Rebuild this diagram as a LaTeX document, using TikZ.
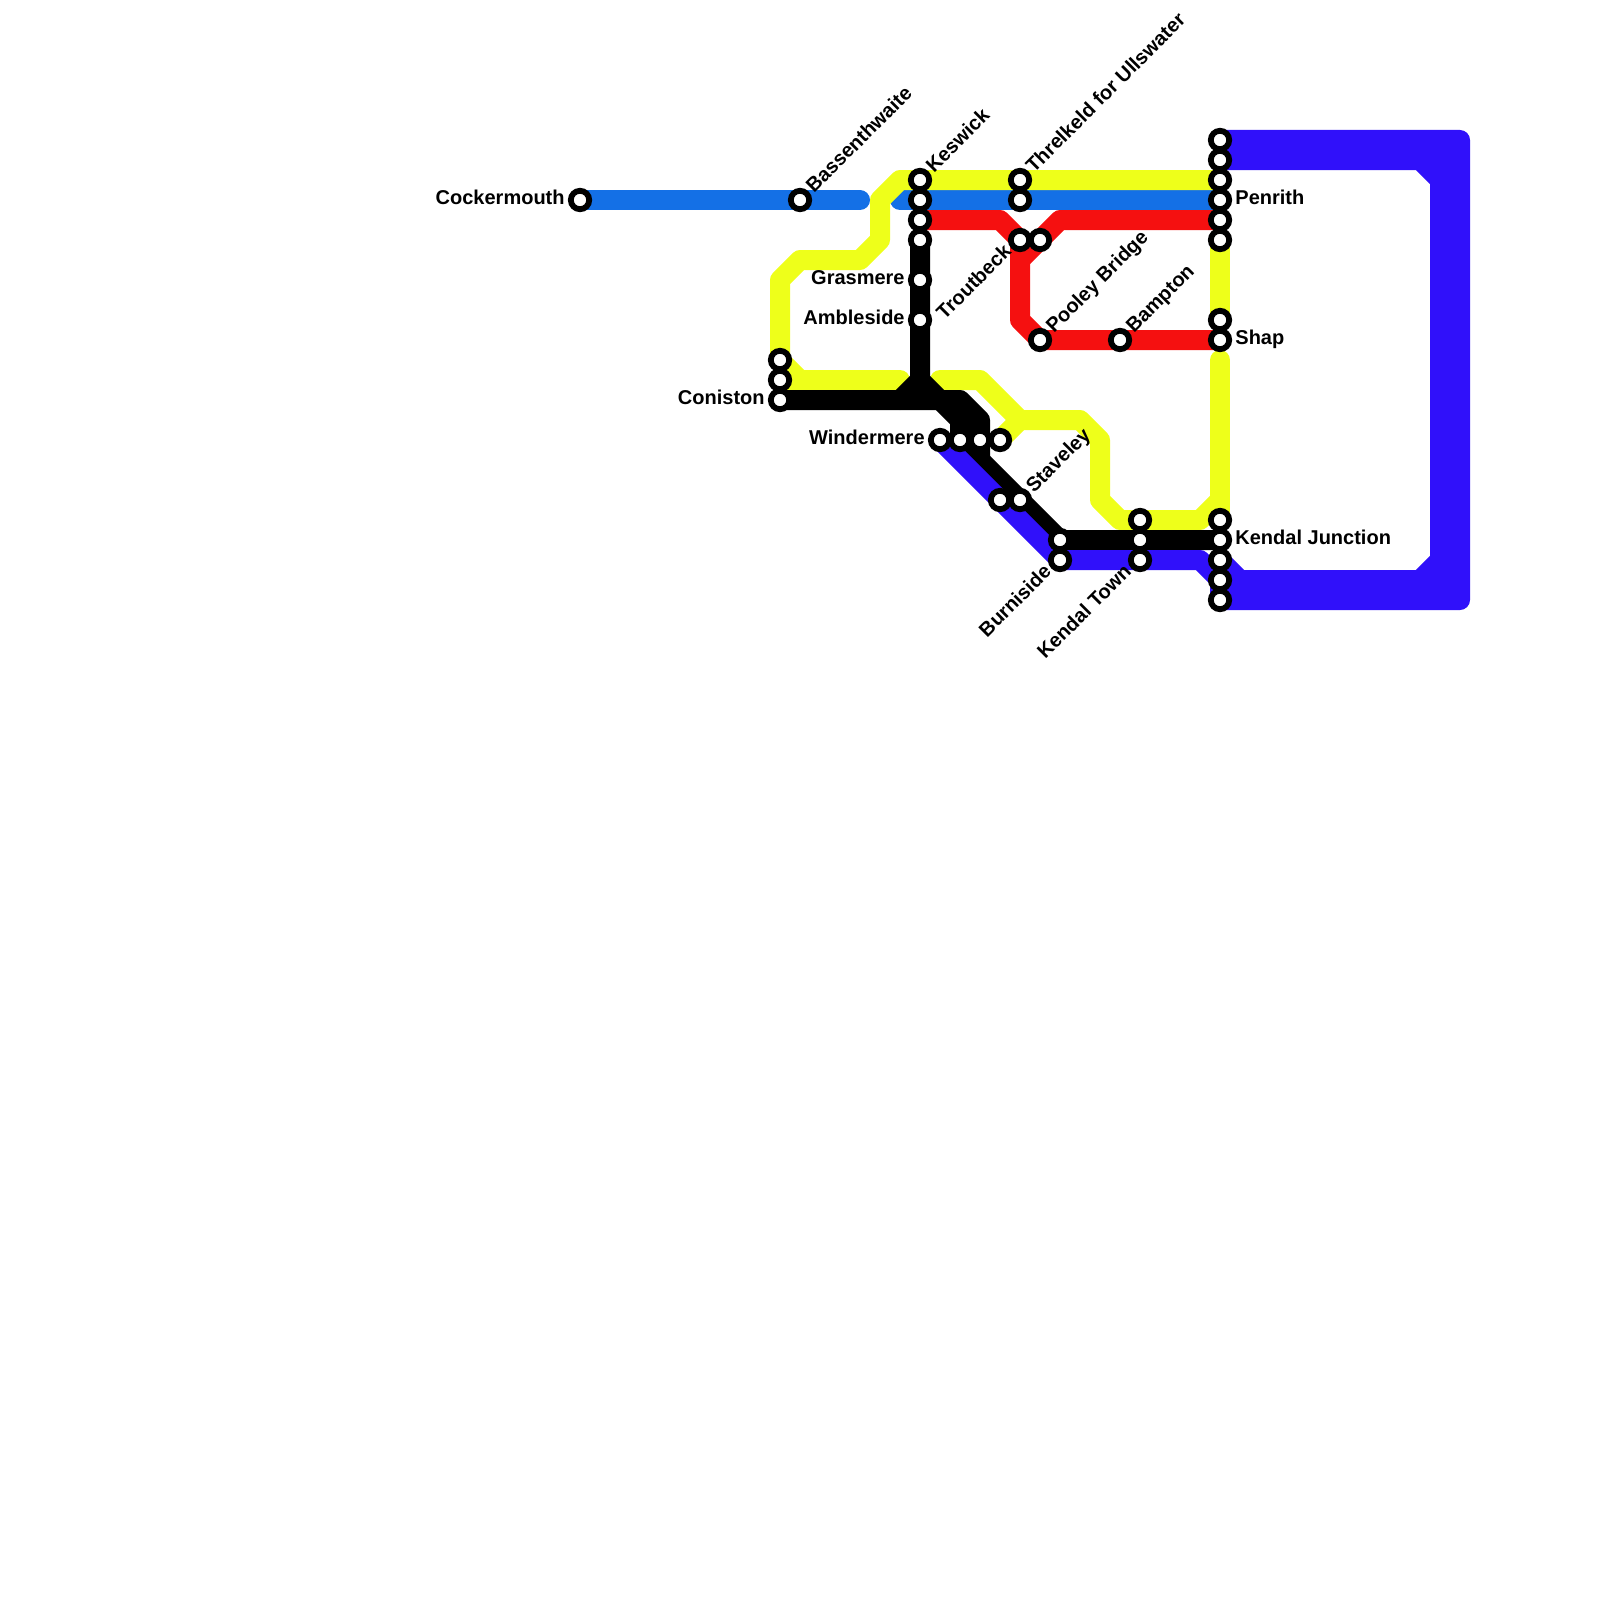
\documentclass[tikz,border=0pt]{standalone}
\usepackage{fontspec}
\setmainfont{Liberation Sans}
\usetikzlibrary{backgrounds}

\definecolor{cumbrialine}{HTML}{1470E6}
\definecolor{lakeline}{HTML}{EEFF1A}
\definecolor{ullsline}{HTML}{F51010}
\definecolor{westcoast}{HTML}{3010FA}

\tikzset{
  stn/.style={circle, draw=black, fill=white, line width=2.9pt, minimum size=9.2pt, inner sep=0pt},
  leftlabel/.style={anchor=base east, xshift=-7.5pt, yshift=-2.3pt, inner sep=0pt},
  rightlabel/.style={anchor=base west, xshift=7.5pt, yshift=-2.3pt, inner sep=0pt},
  uplabel/.style={xshift=6.9pt, yshift=3pt, anchor=base west, rotate=45, inner sep=0pt},
  downlabel/.style={xshift=-3.7pt, yshift=-6.3pt, anchor=base east, rotate=45, inner sep=0pt},
  metro/.style={line width=10pt, line cap=round, line join=round}
}

\begin{document}
\begin{tikzpicture}[x=0.5pt, y=-0.5pt, font=\bfseries\fontsize{10}{12}\selectfont]
\useasboundingbox (0,0) rectangle (1600,1600);
% stations along the top
\node[stn] (cockermouth) at (580,200) {};
\node[stn] (bassenthwaite) at (800,200) {};
\node[stn] (keswick) at (920,180) {};
\node[stn] (keswickblue) at (920,200) {};
\node[stn] (keswickred) at (920,220) {};
\node[stn] (keswickblack) at (920,240) {};
\node[stn] (grasmere) at (920,280) {};
\node[stn] (ambleside) at (920,320) {};
\node[stn] (threlkeld) at (1020,180) {};
\node[stn] (threlkeldblue) at (1020,200) {};
\node[stn] (troutbeck) at (1020,240) {};
\node[stn] (troutbeckb) at (1040,240) {};
\node[stn] (pooley) at (1040,340) {};
\node[stn] (bampton) at (1120,340) {};
% coniston and windermere
\node[stn] (conistontop) at (780,360) {};
\node[stn] (conistonmid) at (780,380) {};
\node[stn] (coniston) at (780,400) {};
\node[stn] (windermere) at (940,440) {};
\node[stn] (windermereb) at (960,440) {};
\node[stn] (windermerec) at (980,440) {};
\node[stn] (windermered) at (1000,440) {};
\node[stn] (staveleyblue) at (1000,500) {};
\node[stn] (staveley) at (1020,500) {};
\node[stn] (burniside) at (1060,540) {};
\node[stn] (burnisideblue) at (1060,560) {};
\node[stn] (kendaltownyellow) at (1140,520) {};
\node[stn] (kendaltownblack) at (1140,540) {};
\node[stn] (kendaltown) at (1140,560) {};
% main line column
\node[stn] (penrithtop) at (1220,140) {};
\node[stn] (penrithb) at (1220,160) {};
\node[stn] (penrithyellow) at (1220,180) {};
\node[stn] (penrith) at (1220,200) {};
\node[stn] (penrithred) at (1220,220) {};
\node[stn] (penrithc) at (1220,240) {};
\node[stn] (shapyellow) at (1220,320) {};
\node[stn] (shap) at (1220,340) {};
\node[stn] (kendalyellow) at (1220,520) {};
\node[stn] (kendaljunction) at (1220,540) {};
\node[stn] (kendalblue) at (1220,560) {};
\node[stn] (kendald) at (1220,580) {};
\node[stn] (kendale) at (1220,600) {};
% labels
\node[leftlabel] (cockermouthlabel) at (cockermouth) {Cockermouth};
\node[leftlabel] (grasmerelabel) at (grasmere) {Grasmere};
\node[leftlabel] (amblesidelabel) at (ambleside) {Ambleside};
\node[leftlabel] (conistonlabel) at (coniston) {Coniston};
\node[leftlabel] (windermerelabel) at (windermere) {Windermere};
\node[rightlabel] (penrithlabel) at (penrith) {Penrith};
\node[rightlabel] (shaplabel) at (shap) {Shap};
\node[rightlabel] (kendaljunctionlabel) at (kendaljunction) {Kendal Junction};
\node[uplabel] (bassenthwaitelabel) at (bassenthwaite) {Bassenthwaite};
\node[uplabel] (keswicklabel) at (keswick) {Keswick};
\node[uplabel] (threlkeldlabel) at (threlkeld) {Threlkeld for Ullswater};
\node[uplabel] (pooleylabel) at (pooley) {Pooley Bridge};
\node[uplabel] (bamptonlabel) at (bampton) {Bampton};
\node[uplabel] (staveleylabel) at (staveley) {Staveley};
\node[downlabel] (troutbecklabel) at (troutbeck) {Troutbeck};
\node[downlabel] (burnisidelabel) at (burnisideblue) {Burniside};
\node[downlabel] (kendaltownlabel) at (kendaltown) {Kendal Town};
% the lines, under the stations
\begin{pgfonlayer}{background}
\draw[metro, cumbrialine] (cockermouth.center) -- (bassenthwaite.center) -- (860,200);
\draw[metro, cumbrialine] (900,200) -- (keswickblue.center) -- (threlkeldblue.center) -- (penrith.center);
\draw[metro, lakeline] (penrithyellow.center) -- (threlkeld.center) -- (keswick.center) -- (900,180) -- (880,200) -- (880,240) -- (860,260) -- (800,260) -- (780,280) -- (conistontop.center) -- (800,380) -- (900,380);
\draw[metro, lakeline] (conistonmid.center) -- (800,380);
\draw[metro, lakeline] (940,380) -- (980,380) -- (1020,420) -- (1080,420) -- (1100,440) -- (1100,500) -- (1120,520) -- (kendaltownyellow.center) -- (1200,520) -- (1220,500);
\draw[metro, lakeline] (kendalyellow.center) -- (1220,360);
\draw[metro, lakeline] (penrithc.center) -- (shapyellow.center);
\draw[metro, lakeline] (windermered.center) -- (1020,420);
\draw[metro, ullsline] (keswickred.center) -- (1000,220) -- (troutbeck.center) -- (1020,320) -- (pooley.center) -- (bampton.center) -- (shap.center);
\draw[metro, ullsline] (penrithred.center) -- (1060,220) -- (troutbeckb.center) -- (1020,260);
\draw[metro, black] (keswickblack.center) -- (grasmere.center) -- (ambleside.center) -- (920,380) -- (900,400);
\draw[metro, black] (coniston.center) -- (960,400) -- (980,420) -- (windermerec.center) -- (980,460);
\draw[metro, black] (920,380) -- (960,420) -- (windermereb.center) -- (staveley.center) -- (burniside.center) -- (kendaltownblack.center) -- (kendaljunction.center);
\draw[metro, westcoast] (windermere.center) -- (staveleyblue.center) -- (burnisideblue.center) -- (kendaltown.center) -- (1200,560) -- (kendald.center) -- (kendale.center) -- (1460,600) -- (1460,140) -- (penrithtop.center);
\draw[metro, westcoast] (penrithb.center) -- (1420,160) -- (1440,180) -- (1440,560) -- (1420,580) -- (kendald.center);
\draw[metro, westcoast] (1240,580) -- (kendalblue.center);
% corners between the two tracks
\fill[westcoast] (1420,140) -- (1460,140) -- (1460,180) -- (1440,180) -- (1420,160) -- cycle;
\fill[westcoast] (1420,600) -- (1460,600) -- (1460,560) -- (1440,560) -- (1420,580) -- cycle;
\end{pgfonlayer}
\end{tikzpicture}
\end{document}
